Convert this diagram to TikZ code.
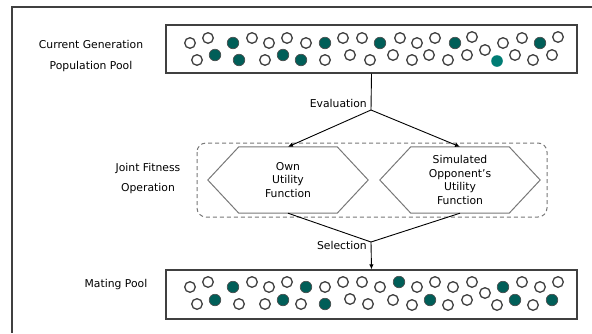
\documentclass[tikz,border=0pt]{standalone}
\usepackage{fontspec}
\setmainfont{DejaVu Sans}
\usepackage{tikz}
\usetikzlibrary{calc}
\usetikzlibrary{arrows.meta}
\usetikzlibrary{positioning}

\definecolor{fitteal}{RGB}{0,94,88}
\definecolor{liteteal}{RGB}{0,124,116}
\definecolor{framegray}{RGB}{64,64,64}
\definecolor{hexgray}{RGB}{120,120,120}

\begin{document}
\begin{tikzpicture}[x=1pt, y=-1pt,
    font=\fontsize{10.8}{13.5}\selectfont,
    lbl/.style={align=center, inner sep=1pt},
    sidelbl/.style={align=center, inner sep=1pt, font=\fontsize{10.8}{20.5}\selectfont},
    pool/.style={draw=framegray, line width=1.3pt, fill=white, minimum width=411pt},
    hexbody/.style={align=center, inner sep=0pt, minimum width=98pt, minimum height=66pt},
    hexline/.style={draw=hexgray, line width=1pt},
    link/.style={line width=0.9pt},
    arr/.style={line width=0.9pt, -{Latex[length=5pt, width=4.5pt]}},
    indiv/.style={draw=framegray, fill=white, line width=1.3pt},
    fitindiv/.style={draw=black!70, fill=fitteal, line width=0.6pt}]
    \useasboundingbox (0,0) rectangle (592,333);
    \draw[framegray, line width=1.3pt] (592,7) -- (12,7) -- (12,333);

    \node[pool, minimum height=48pt] (toppool) at (371.5,49) {};
    \node[pool, minimum height=49pt] (matingpool) at (371.5,294.5) {};
    \node[sidelbl] (curgen) at (91,56) {Current Generation\\Population Pool};
    \node[sidelbl] (jointfit) at (148,178.5) {Joint Fitness\\Operation};
    \node[lbl] (matelbl) at (116,285) {Mating Pool};

    \draw[hexgray, line width=1pt, dash pattern=on 4pt off 3pt, rounded corners=9pt]
      (197,143) rectangle (547,217);

    \node[hexbody] (ownutil) at (288,180) {Own\\Utility\\Function};
    \node[hexbody] (oppoutil) at (460,180) {Simulated\\Opponent’s\\Utility\\Function};
    \foreach \h in {ownutil, oppoutil}
      \draw[hexline] (\h.north west) -- (\h.north east) -- ($(\h.east)+(31,0)$)
        -- (\h.south east) -- (\h.south west) -- ($(\h.west)-(31,0)$) -- cycle;

    % population pool
    \foreach \px/\py in {190/43, 208/38, 252/38, 269/43, 287/38, 306/43, 343/38, 362/38,
        400/38, 417/43, 435/38, 472/37, 485/50, 503/43, 522/38, 558/37,
        197/60, 265/60, 325/60, 350/55, 370/60, 393/55, 412/60, 429/55, 448/60,
        467/55, 515/55, 533/60, 552/55}
      \draw[indiv] (\px,\py) circle (5.3pt);
    \foreach \px/\py in {233/43, 325/43, 380/43, 455/43, 540/43, 215/55, 239/60, 283/55, 301/60}
      \draw[fitindiv] (\px,\py) circle (5.8pt);
    \fill[liteteal] (497,61) circle (5.8pt);

    % mating pool
    \foreach \px/\py in {190/287, 208/282, 252/282, 269/287, 287/282, 325/287, 343/282, 362/282,
        380/287, 417/287, 435/282, 453/287, 472/282, 485/293, 522/282, 540/287, 558/282,
        197/304, 239/304, 265/304, 301/304, 350/299, 368/304, 393/300, 412/305,
        448/305, 467/300, 497/305, 533/305}
      \draw[indiv] (\px,\py) circle (5.3pt);
    \foreach \px/\py in {233/287, 306/287, 399/282, 503/287, 215/300, 283/300, 325/304,
        430/300, 515/300, 552/300}
      \draw[fitindiv] (\px,\py) circle (5.8pt);

    \coordinate (evaljoin) at (371,110);
    \coordinate (seljoin) at (371,242);
    \node[lbl, anchor=east] (evallbl) at (368,103) {Evaluation};
    \node[lbl, anchor=east] (sellbl) at (368,245) {Selection};

    \draw[link] (toppool.south) -- (evaljoin);
    \draw[arr] (evaljoin) -- (ownutil.north);
    \draw[arr] (evaljoin) -- (oppoutil.north);
    \draw[link] (ownutil.south) -- (seljoin);
    \draw[link] (oppoutil.south) -- (seljoin);
    \draw[arr] (seljoin) -- (matingpool.north);
  \end{tikzpicture}
\end{document}
